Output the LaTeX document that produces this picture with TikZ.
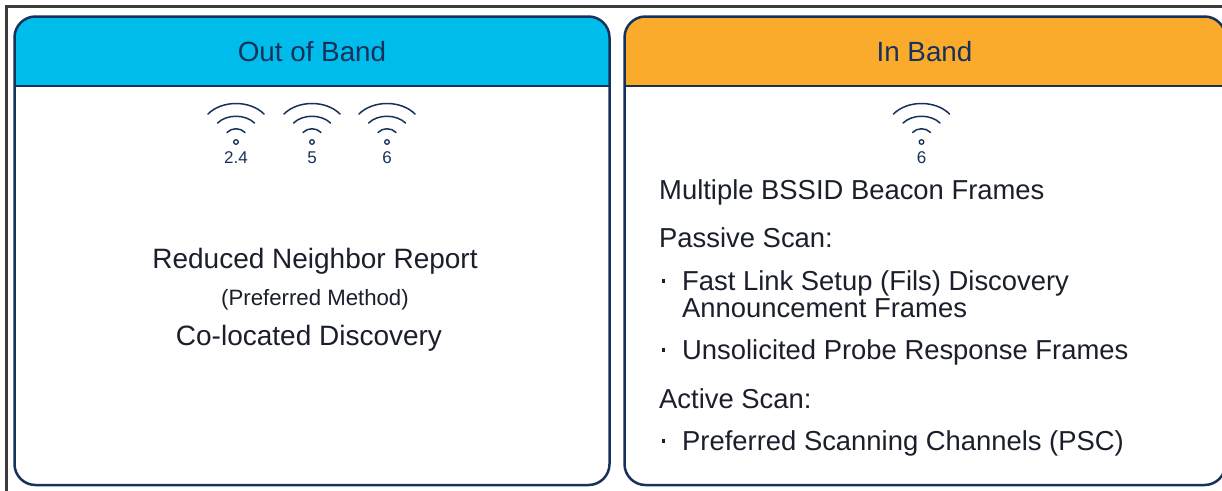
\documentclass[tikz,border=0pt]{standalone}
\usepackage{fontspec}
\setmainfont{Liberation Sans}
\definecolor{navy}{HTML}{16325C}
\definecolor{cyanhead}{HTML}{00BCEB}
\definecolor{orangehead}{HTML}{FBAB2C}
\definecolor{ink}{HTML}{1A1F2B}
\definecolor{frameline}{HTML}{3A3A3A}
\tikzset{
  panel/.style={draw=navy,line width=2.5pt,rounded corners=21pt},
  headline/.style={draw=navy,line width=2.5pt},
  headtext/.style={text=navy,font=\fontsize{27.8}{30}\selectfont,anchor=base,inner sep=0pt},
  bodytext/.style={text=ink,font=\fontsize{27.4}{30}\selectfont,anchor=base west,inner sep=0pt},
  midtext/.style={text=ink,font=\fontsize{28}{30}\selectfont,anchor=base,inner sep=0pt},
  smalltext/.style={text=ink,font=\fontsize{22.2}{24}\selectfont,anchor=base,inner sep=0pt},
  bandtext/.style={text=navy,font=\fontsize{17}{18}\selectfont,anchor=base,inner sep=0pt},
  bulletmark/.style={fill=ink,draw=none,minimum size=3.6pt,inner sep=0pt,rectangle},
  wave/.style={draw=navy,line width=1.5pt,line cap=round,fill=none},
  wifi/.pic={
    \path[wave] (-28,-28) .. controls (-14,-42) and (14,-42) .. (28,-28);
    \path[wave] (-18.5,-19) .. controls (-9,-28) and (9,-28) .. (18.5,-19);
    \path[wave] (-9,-9.5) .. controls (-4.5,-14.5) and (4.5,-14.5) .. (9,-9.5);
    \path[draw=navy,line width=1.3pt] (0,0) circle[radius=2.3];
  }
}
\begin{document}
\begin{tikzpicture}[x=1pt,y=-1pt]
\useasboundingbox (0,0) rectangle (1222,490);
\begin{scope}
\clip (0,0) rectangle (1222,490);
\fill[white] (0,0) rectangle (1222,490);
% outer frame
\draw[frameline,line width=2.2pt] (6.5,491) -- (6.5,6.5) -- (1223,6.5);
% header fills
\begin{scope}
\clip (0,0) rectangle (1222,86);
\fill[cyanhead,rounded corners=21pt] (14.5,16.5) rectangle (609.5,485);
\fill[orangehead,rounded corners=21pt] (624.5,16.5) rectangle (1225.5,485);
\end{scope}
% left panel
\draw[panel] (14.5,16.5) rectangle (609.5,485);
\draw[headline] (14.5,86) -- (609.5,86);
% right panel
\draw[panel] (624.5,16.5) rectangle (1225.5,485);
\draw[headline] (624.5,86) -- (1226,86);
\end{scope}
% headers
\node[headtext] (oob) at (312,61) {Out of Band};
\node[headtext] (ib) at (924.5,61) {In Band};
% wifi icons
\pic at (236,142) {wifi};
\pic at (312,142) {wifi};
\pic at (387,142) {wifi};
\pic at (921.5,142) {wifi};
\node[bandtext] (b24) at (236,163) {2.4};
\node[bandtext] (b5) at (312,163) {5};
\node[bandtext] (b6) at (387,163) {6};
\node[bandtext] (b6r) at (921.5,163) {6};
% left text
\node[midtext] (rnr) at (315,268) {Reduced Neighbor Report};
\node[smalltext] (pm) at (315,305) {(Preferred Method)};
\node[midtext] (cld) at (309,345) {Co-located Discovery};
% right text
\node[bodytext] (mb) at (659,199) {Multiple BSSID Beacon Frames};
\node[bodytext] (ps) at (659,247) {Passive Scan:};
\node[bulletmark] (b1) at (663.5,281) {};
\node[bodytext] (fl) at (682,290) {Fast Link Setup (Fils) Discovery};
\node[bodytext] (af) at (682,317) {Announcement Frames};
\node[bulletmark] (b2) at (663.5,350) {};
\node[bodytext] (up) at (682,359) {Unsolicited Probe Response Frames};
\node[bodytext] (as) at (659,408) {Active Scan:};
\node[bulletmark] (b3) at (663.5,441) {};
\node[bodytext] (psc) at (682,450) {Preferred Scanning Channels (PSC)};
\end{tikzpicture}
\end{document}
